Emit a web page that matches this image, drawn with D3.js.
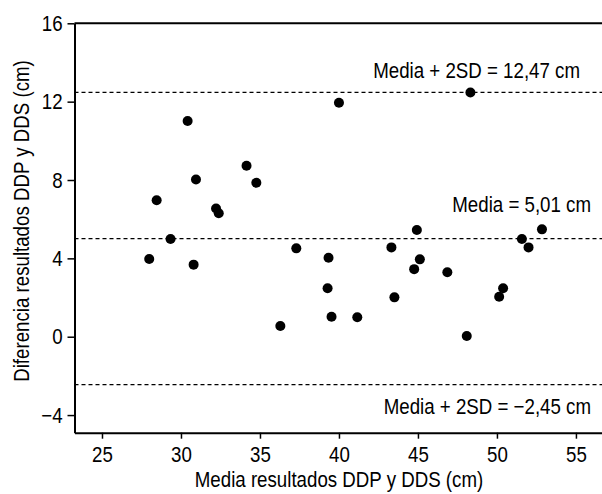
<!DOCTYPE html>
<html>
<head>
<meta charset="utf-8">
<script src="https://cdn.jsdelivr.net/npm/d3@7"></script>
<style>
	body { margin: 0; background: #fff; }
	svg text { font-family: "Liberation Sans", Arial, sans-serif; font-size: 22px; fill: #000; }
</style>
</head>
<body>
<svg id="chart" width="602" height="494"></svg>
<script>
	// mean of the two measures (x) and their difference (y), one per subject
	const meanVals = [ 40.0, 30.42, 34.15, 30.95, 34.77, 28.46, 32.22, 32.39, 29.34, 37.3,
		48.32, 44.93, 52.85, 51.58, 52.0, 43.32, 27.99, 30.8, 39.34, 39.28,
		39.53, 41.16, 36.29, 45.12, 44.76, 46.86, 43.51, 50.39, 50.14, 48.09 ];
	const diffVals = [ 11.94, 11.01, 8.73, 8.03, 7.86, 6.97, 6.55, 6.30, 4.99, 4.51,
		12.47, 5.45, 5.48, 4.99, 4.56, 4.56, 3.97, 3.68, 4.03, 2.47,
		1.02, 0.99, 0.55, 3.95, 3.45, 3.29, 2.01, 2.47, 2.04, 0.04 ];

	const xTicks = [ 25, 30, 35, 40, 45, 50, 55 ];
	const yTicks = [ -4, 0, 4, 8, 12, 16 ];

	// limits of agreement
	const limitVals = [ 12.47, 5.01, -2.45 ];
	const limitLabels = [ 'Media + 2SD = 12,47 cm', 'Media = 5,01 cm', 'Media + 2SD = \u22122,45 cm' ];

	// no condensed font installed: squeeze the regular one horizontally
	const squeeze = 0.85;

	const svg = d3.select( '#chart' );

	const x = d3.scaleLinear().domain( [ 23.26, 56.65 ] ).range( [ 74.5, 602 ] ),
		y = d3.scaleLinear().domain( [ -4.9, 16 ] ).range( [ 432.7, 23.3 ] );

	// top border line at y = 16
	svg.append( 'line' )
		.attr( 'x1', x.range()[ 0 ] ).attr( 'x2', x.range()[ 1 ] )
		.attr( 'y1', y( 16 ) ).attr( 'y2', y( 16 ) )
		.style( 'stroke', '#000' ).style( 'stroke-width', 2 );

	// axes
	let xAxis = svg.append( 'g' )
		.attr( 'transform', 'translate(0,' + y.range()[ 0 ] + ')' )
		.call( d3.axisBottom( x ).tickValues( xTicks ).tickSize( 6 ).tickPadding( 8 ).tickSizeOuter( 0 ) );

	let yAxis = svg.append( 'g' )
		.attr( 'transform', 'translate(' + x.range()[ 0 ] + ',0)' )
		.call( d3.axisLeft( y ).tickValues( yTicks ).tickSize( 7 ).tickPadding( 7 ).tickSizeOuter( 0 )
			.tickFormat( d => d < 0 ? '\u2212' + Math.abs( d ) : d ) );

	[ xAxis, yAxis ].forEach( g => {
		g.attr( 'font-family', null ).attr( 'font-size', null );
		g.select( '.domain' ).style( 'stroke-width', 2 );
		g.selectAll( '.tick line' ).style( 'stroke-width', 1.5 );
		g.selectAll( '.tick text' ).attr( 'transform', 'scale(' + squeeze + ',1)' );
	} );

	// dashed limit lines
	svg.selectAll( 'line.limit' ).data( limitVals )
		.enter().append( 'line' )
		.attr( 'class', 'limit' )
		.attr( 'x1', x.range()[ 0 ] ).attr( 'x2', x.range()[ 1 ] )
		.attr( 'y1', d => y( d ) ).attr( 'y2', d => y( d ) )
		.style( 'stroke', '#000' ).style( 'stroke-width', 1.3 ).style( 'stroke-dasharray', '4,3' );

	// limit labels
	const labelEnd = [ 580, 591, 591 ],
		labelShift = [ -14, -27, 29 ];
	svg.selectAll( 'text.limit' ).data( limitVals )
		.enter().append( 'text' )
		.attr( 'class', 'limit' )
		.attr( 'transform', ( d, i ) => 'translate(' + labelEnd[ i ] + ',' + ( y( d ) + labelShift[ i ] ) + ') scale(' + squeeze + ',1)' )
		.attr( 'text-anchor', 'end' )
		.text( ( d, i ) => limitLabels[ i ] );

	// points
	svg.selectAll( 'circle' ).data( meanVals )
		.enter().append( 'circle' )
		.attr( 'cx', d => x( d ) )
		.attr( 'cy', ( d, i ) => y( diffVals[ i ] ) )
		.attr( 'r', 5 )
		.style( 'fill', '#000' );

	// axis titles
	svg.append( 'text' )
		.attr( 'transform', 'translate(339,487) scale(' + squeeze + ',1)' )
		.attr( 'text-anchor', 'middle' )
		.text( 'Media resultados DDP y DDS (cm)' );

	svg.append( 'text' )
		.attr( 'transform', 'translate(29,221) rotate(-90) scale(' + squeeze + ',1)' )
		.attr( 'text-anchor', 'middle' )
		.text( 'Diferencia resultados DDP y DDS (cm)' );
</script>
</body>
</html>
